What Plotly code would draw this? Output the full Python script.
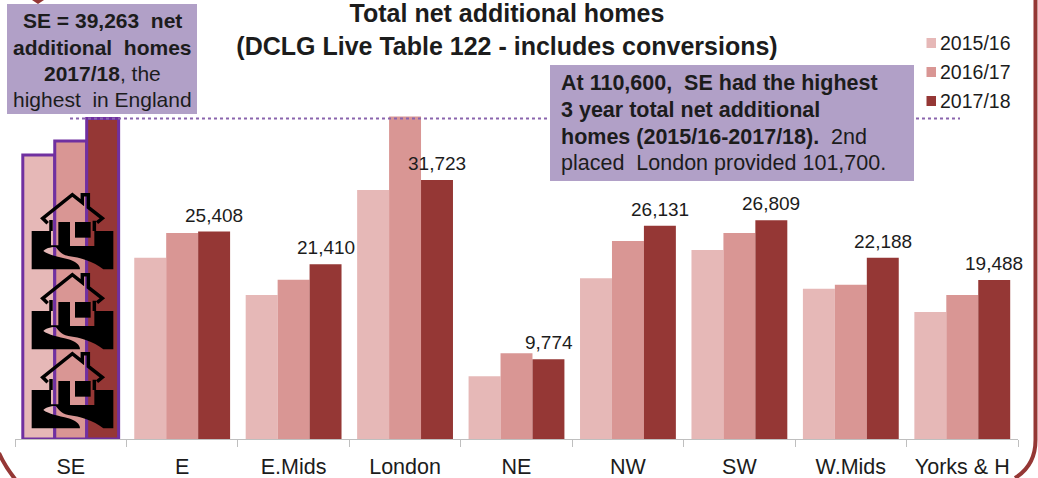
import plotly.graph_objects as go

regions = ["SE", "E", "E.Mids", "London", "NE", "NW", "SW", "W.Mids", "Yorks & H"]
y2015 = [34800, 22200, 17650, 30500, 7700, 19700, 23150, 18400, 15550]
y2016 = [36500, 25250, 19500, 39500, 10500, 24250, 25250, 18900, 17650]
y2017 = [39263, 25408, 21410, 31723, 9774, 26131, 26809, 22188, 19488]
labels_2017 = ["", "25,408", "21,410", "31,723", "9,774", "26,131", "26,809", "22,188", "19,488"]
series_names = ["2015/16", "2016/17", "2017/18"]
colors = ["#e6b8b7", "#d99694", "#953735"]

W, H = 1038, 478
FONT = "Liberation Sans"
INK = "#1c1c1c"
PURPLE = "#7030a0"
BOX = "#b1a0c7"
BORDER = "#953735"
PX_PER_UNIT = 1 / 122.5
BASE_Y, TOP_Y = 439, 100


def px(x):
    return x / W


def py(y):
    return 1 - y / H


def path(cmds):
    """Turn pixel-position path commands into paper coordinates."""
    out = []
    for c in cmds:
        if isinstance(c, str):
            out.append(c)
        else:
            out.append(f"{px(c[0]):.5f},{py(c[1]):.5f}")
    return " ".join(out)


fig = go.Figure()
for name, vals, col in zip(series_names, [y2015, y2016, y2017], colors):
    fig.add_bar(
        x=regions, y=vals, name=name, showlegend=False,
        marker=dict(color=col, line=dict(color=PURPLE, width=[3] + [0] * 8)),
        cliponaxis=False,
    )

shapes = []


def rect(x0, y0, x1, y1, color):
    shapes.append(dict(type="rect", xref="paper", yref="paper", x0=px(x0), x1=px(x1),
                       y0=py(y1), y1=py(y0), fillcolor=color, line_width=0, layer="above"))


# dotted reference line at the SE 2017/18 value
shapes.append(dict(type="line", xref="paper", yref="y", x0=px(70), x1=px(960),
                   y0=y2017[0], y1=y2017[0], layer="above",
                   line=dict(color="#8a64ad", width=2, dash="dot")))

# text boxes
rect(7, 4, 197, 114, BOX)
rect(550, 65, 914, 181, BOX)


# house icons
def house(ox, oy):
    def p(x, y):
        return (ox + x / 3, oy + y / 3)
    ground = ["M", p(20, 135), "L", p(78, 135), "L", p(78, 178), "L", p(100, 178), "L", p(100, 108),
              "L", p(135, 108), "L", p(135, 180), "L", p(208, 180), "L", p(208, 135), "L", p(265, 135),
              "L", p(265, 250), "L", p(235, 250), "C", p(205, 225), p(165, 215), p(130, 210),
              "C", p(105, 205), p(100, 190), p(92, 183),
              "C", p(75, 183), p(60, 188), p(55, 195), "C", p(70, 207), p(100, 212), p(130, 220),
              "C", p(150, 226), p(165, 236), p(165, 250), "L", p(20, 250), "Z"]
    shapes.append(dict(type="path", xref="paper", yref="paper", path=path(ground),
                       fillcolor="black", line_width=0, layer="above"))
    win = ["M", p(150, 108), "L", p(197, 108), "L", p(197, 155), "L", p(150, 155), "Z"]
    shapes.append(dict(type="path", xref="paper", yref="paper", path=path(win),
                       fillcolor="black", line_width=0, layer="above"))
    roof = ["M", p(68, 112), "L", p(53, 97), "L", p(142, 26), "L", p(172, 50),
            "L", p(172, 26), "L", p(190, 26), "L", p(190, 64), "L", p(232, 97), "L", p(216, 110)]
    walls = ["M", p(78, 135), "L", p(78, 102), "M", p(208, 135), "L", p(208, 104)]
    for seg in (roof, walls):
        shapes.append(dict(type="path", xref="paper", yref="paper", path=path(seg),
                           fillcolor="rgba(0,0,0,0)", line=dict(color="black", width=3.5), layer="above"))


for oy in [186, 266, 345]:
    house(25, oy)

# rounded frame and pointer of the slide behind the chart
shapes.append(dict(type="path", xref="paper", yref="paper", layer="above",
                   path=path(["M", (1035.5, 0), "L", (1035.5, 440), "C", (1035.5, 458), (1028, 470), (1015, 478)]),
                   fillcolor="rgba(0,0,0,0)", line=dict(color=BORDER, width=4)))
shapes.append(dict(type="path", xref="paper", yref="paper", layer="above",
                   path=path(["M", (-1, 453), "C", (3, 462), (8, 470), (15, 479)]),
                   fillcolor="rgba(0,0,0,0)", line=dict(color=BORDER, width=4)))
shapes.append(dict(type="path", xref="paper", yref="paper", layer="above",
                   path=path(["M", (32, 0), "L", (44, 0), "L", (38, 4), "Z"]),
                   fillcolor=BORDER, line_width=0))

# legend
for yc, col in zip([43, 72, 101], colors):
    rect(926.5, yc - 5, 936, yc + 5, col)

annotations = []


def note(x, y, text, size=18.5, anchor="left"):
    annotations.append(dict(xref="paper", yref="paper", x=px(x), y=py(y), text=text, showarrow=False,
                            xanchor=anchor, yanchor="middle", align=anchor,
                            font=dict(family=FONT, size=size, color=INK)))


# value labels above the 2017/18 bars
for region, value, label in zip(regions, y2017, labels_2017):
    if label:
        annotations.append(dict(xref="x", yref="y", x=region, y=value, text=label, showarrow=False,
                                xanchor="center", yanchor="bottom", xshift=32, yshift=4,
                                font=dict(family=FONT, size=19, color=INK)))

for yc, name in zip([43, 72, 101], series_names):
    note(938, yc, name, 19.5)

NB = "\u00a0"
note(102, 20, f"<b>SE = 39,263{NB}{NB}net</b>", 21, "center")
note(102, 47, f"<b>additional{NB}{NB}homes</b>", 21, "center")
note(102, 73, "<b>2017/18</b>, the", 21, "center")
note(102, 99, f"highest{NB}{NB}in England", 21, "center")

note(559, 83, f"<b>At 110,600,{NB}{NB}SE had the highest</b>", 21.5)
note(559, 110, "<b>3 year total net additional</b>", 21.5)
note(559, 137, f"<b>homes{NB}(2015/16-2017/18).</b>{NB}{NB}2nd", 21.5)
note(559, 163, f"placed{NB}{NB}London{NB}provided{NB}101,700.", 21.5)

fig.update_layout(
    width=W, height=H, autosize=False,
    margin=dict(l=0, r=0, t=0, b=0),
    paper_bgcolor="white", plot_bgcolor="white",
    barmode="group", bargap=0.14, bargroupgap=0,
    showlegend=False,
    title=dict(
        text="<b>Total net additional homes<br>(DCLG Live Table 122 - includes conversions)</b>",
        x=507 / W, xanchor="center", y=py(22), yanchor="middle",
        font=dict(family=FONT, size=25, color=INK),
    ),
    xaxis=dict(domain=[px(15), px(1018)], type="category", tickson="boundaries", ticks="outside",
               range=[-0.5, len(regions) - 0.5], autorange=False,
               ticklen=7, tickcolor="#bfbfbf", linecolor="#bfbfbf", showline=True, showgrid=False,
               anchor="y", tickfont=dict(family=FONT, size=21.5, color=INK), ticklabelstandoff=8),
    yaxis=dict(domain=[py(BASE_Y), py(TOP_Y)], range=[0, (BASE_Y - TOP_Y) / PX_PER_UNIT], visible=False),
    shapes=shapes,
    annotations=annotations,
)

fig.write_html("out.html", config=dict(displayModeBar=False),
               post_script="document.body.style.margin='0';document.body.style.overflow='hidden';")
